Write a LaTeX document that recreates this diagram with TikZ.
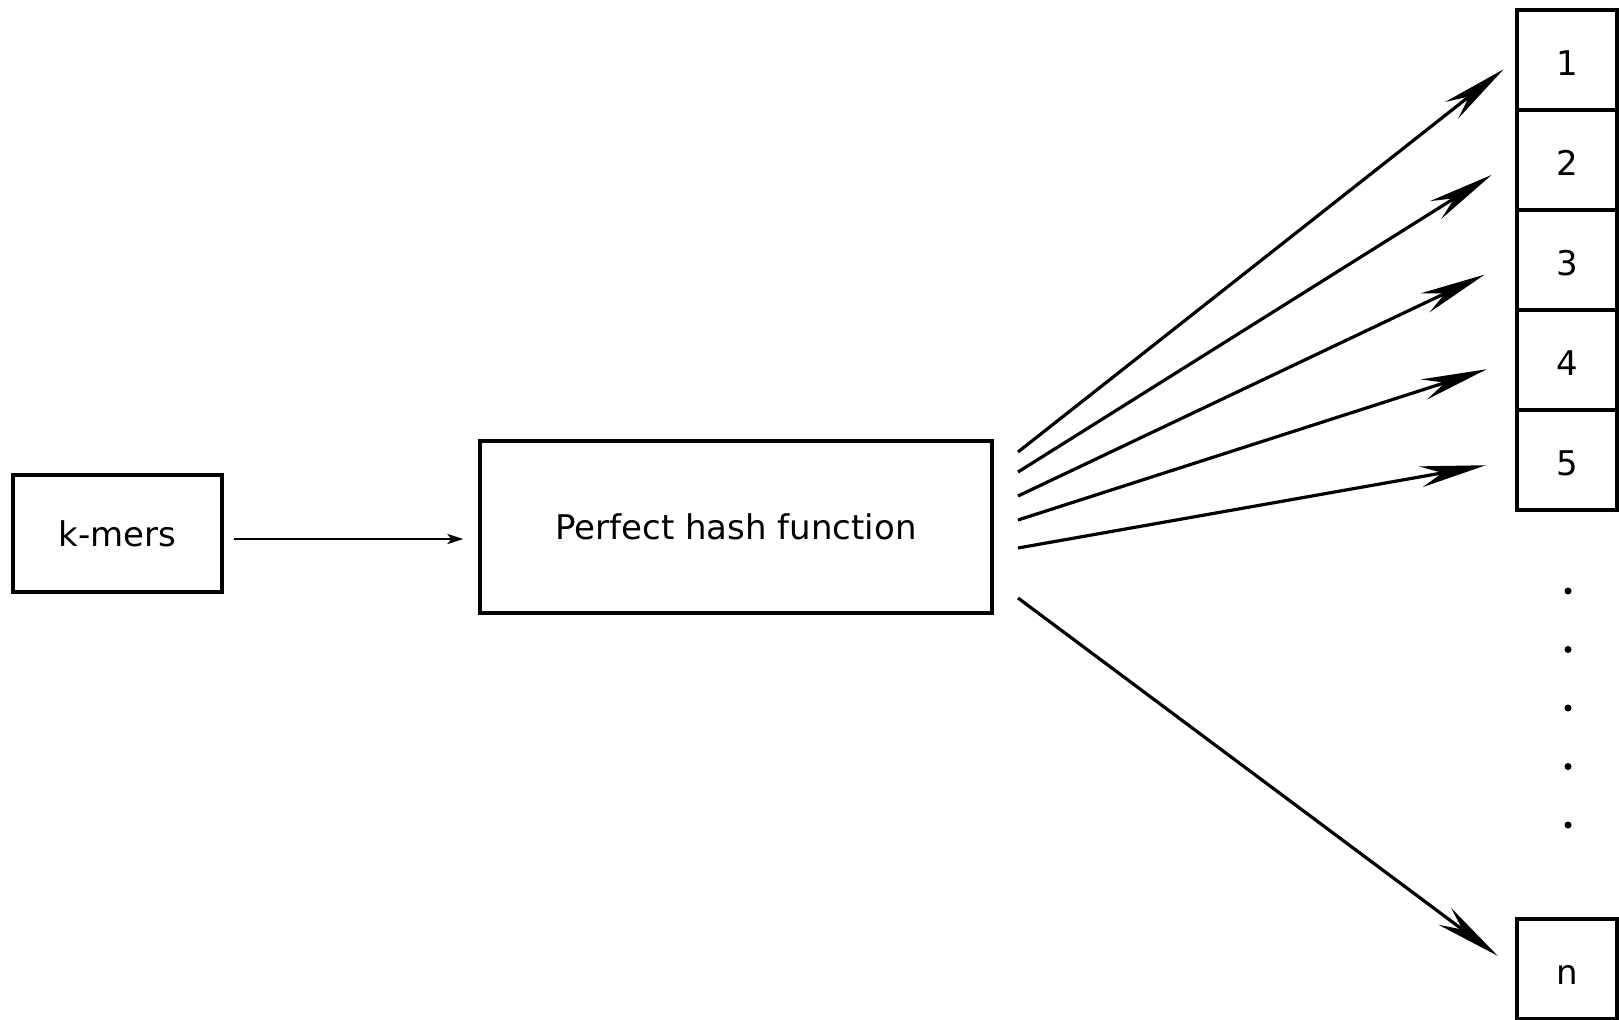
\documentclass[tikz,border=0pt]{standalone}
\usepackage{fontspec}
\setmainfont{DejaVu Sans}
\usetikzlibrary{arrows.meta}

\begin{document}
\begin{tikzpicture}[
    x=0.5pt, y=-0.5pt,
    box/.style={rectangle, draw=black, line width=1.6pt, inner sep=0pt, font=\fontsize{17}{20}\selectfont},
    cell/.style={box, minimum size=50pt, text height=15.4pt, text depth=0pt},
    fan/.style={line width=1.6pt, -{Stealth[length=33pt, width=10.5pt, inset=11pt]}},
]
    \useasboundingbox (0,0) rectangle (1619,1019);

    %Nodes
    \node[box, minimum width=104.5pt, minimum height=58.5pt] (kmers) at (117.5,533.5) {k-mers};
    \node[box, minimum width=256pt, minimum height=86pt] (phf) at (736,527) {Perfect hash function};
    \foreach \i in {1,...,5}
        \node[cell] (cell\i) at (1567,{100*\i-40}) {\i};
    \node[cell] (celln) at (1567,969) {n};

    %Dots
    \foreach \y in {591,649.5,...,826}
        \fill (1568,\y) circle (1.75pt);

    %Lines
    \draw[line width=1.3pt, -{Stealth[length=8pt, width=5pt, inset=2pt]}, shorten <=5pt, shorten >=7.5pt]
        ([yshift=-2.75pt]kmers.east) -- ([yshift=-2.75pt]kmers.east -| phf.west);
    \foreach \i/\y/\s in {1/452/7.5, 2/472/14, 3/496/17, 4/520/15, 5/548/15} {
        \coordinate (out\i) at (1018,\y);
        \draw[fan, shorten >=\s pt] (out\i) -- (cell\i.west);
    }
    \coordinate (outn) at (1018,598);
    \draw[fan, shorten >=11pt] (outn) -- (celln.west);
\end{tikzpicture}
\end{document}
